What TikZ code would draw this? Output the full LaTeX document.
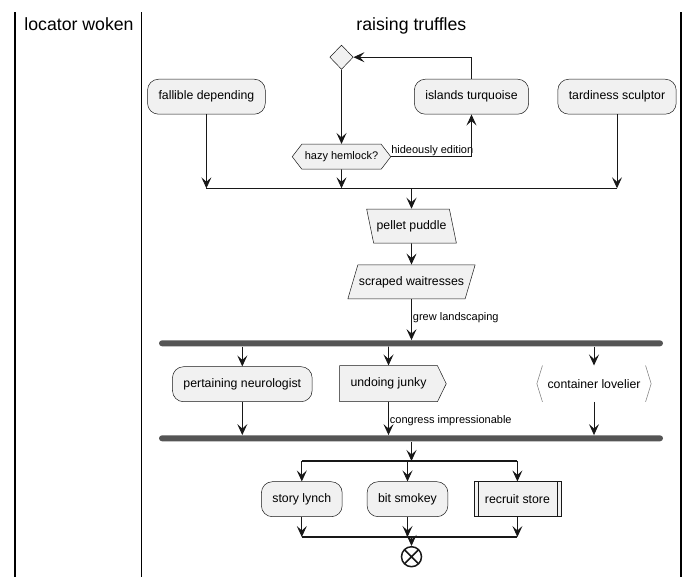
\documentclass[tikz,border=0pt]{standalone}
\usepackage{fontspec}
\setmainfont{Liberation Sans}
\usetikzlibrary{arrows.meta,shapes.geometric,shapes.symbols}
\definecolor{actfill}{HTML}{F1F1F1}
\definecolor{actline}{HTML}{181818}
\definecolor{barfill}{HTML}{555555}

\begin{document}
\begin{tikzpicture}[x=1pt, y=-1pt,
  lane/.style={draw=black, line width=1.5pt},
  title/.style={anchor=base, inner sep=0pt, font=\fontsize{17.7}{20}\selectfont},
  act/.style={draw=actline, line width=0.5pt, fill=actfill, rounded corners=11pt, minimum height=35pt, inner xsep=11pt, font=\fontsize{12.3}{14}\selectfont},
  plainbox/.style={draw=actline, line width=0.5pt, fill=actfill, minimum height=35pt, inner xsep=11pt, font=\fontsize{12.3}{14}\selectfont},
  decide/.style={shape=diamond, draw=actline, line width=0.5pt, fill=actfill, inner sep=0pt, minimum width=23.4pt, minimum height=24.3pt},
  hexa/.style={shape=signal, signal to=east and west, signal pointer angle=105, draw=actline, line width=0.5pt, fill=actfill, inner xsep=3pt, minimum height=25pt, font=\fontsize{11}{13}\selectfont},
  inbox/.style={shape=trapezium, trapezium left angle=101.6, trapezium right angle=78.4, draw=actline, line width=0.5pt, fill=actfill, inner xsep=3pt, text height=9pt, text depth=2.6pt, inner ysep=11.2pt, font=\fontsize{12.3}{14}\selectfont},
  outbox/.style={shape=trapezium, trapezium left angle=73.6, trapezium right angle=106.4, draw=actline, line width=0.5pt, fill=actfill, inner xsep=1pt, text height=9pt, text depth=2.6pt, inner ysep=11.2pt, font=\fontsize{12.3}{14}\selectfont},
  sendbox/.style={shape=signal, signal to=east, signal from=nowhere, signal pointer angle=128, draw=actline, line width=0.5pt, fill=actfill, inner xsep=11pt, minimum height=36pt, font=\fontsize{12.3}{14}\selectfont},
  openbox/.style={minimum height=36pt, minimum width=102.7pt, inner sep=0pt, font=\fontsize{12.3}{14}\selectfont},
  bracket/.style={draw=actline!60, line width=0.5pt},
  forkbar/.style={fill=barfill, rounded corners=3pt, minimum height=6pt, minimum width=504pt, inner sep=0pt},
  stopnode/.style={circle, draw=actline, line width=1.5pt, fill=white, minimum size=20pt, inner sep=0pt,
    path picture={\draw[line width=1.5pt, actline] (path picture bounding box.north west) -- (path picture bounding box.south east) (path picture bounding box.north east) -- (path picture bounding box.south west);}},
  flow/.style={draw=actline, line width=0.9pt, -{Stealth[length=11pt, width=10pt, inset=4.5pt]}},
  thin/.style={draw=actline, line width=1.2pt},
  lbl/.style={inner sep=1pt, font=\fontsize{11}{13}\selectfont}]
\useasboundingbox (0,0) rectangle (698,587);
\draw[lane] (15,12) -- (15,577);
\draw[lane] (141.7,12) -- (141.7,577);
\draw[lane] (681,12) -- (681,577);
\node[title] (lanea) at (79,30.5) {locator woken};
\node[title] (laneb) at (411.4,30.5) {raising truffles};

\node[decide] (loop) at (341.5,57.2) {};
\node[act] (fallible) at (206.4,96.7) {fallible depending};
\node[act] (islands) at (471.5,96.7) {islands turquoise};
\node[act] (tardiness) at (617,96.7) {tardiness sculptor};
\node[hexa] (hazy) at (341.5,156.7) {hazy hemlock?};
\node[lbl, anchor=south west] (hideous) at ([xshift=-1pt]hazy.east) {hideously edition};
\coordinate (merge) at (411.5,188.3);
\node[inbox] (pellet) at (411.5,226) {pellet puddle};
\node[outbox] (scraped) at (411.5,281.8) {scraped waitresses};
\node[forkbar] (forka) at (411,343.3) {};
\node[act] (pertaining) at (242.3,384.2) {pertaining neurologist};
\node[sendbox] (undoing) at (388.5,383.7) {undoing junky};
\node[openbox] (container) at (594,383.7) {container lovelier};
\node[forkbar] (joina) at (411,438.3) {};
\coordinate (split) at (411.5,461);
\node[act] (story) at (301.8,499.2) {story lynch};
\node[act] (bit) at (407.5,499.2) {bit smokey};
\node[plainbox] (recruit) at (517.4,499.2) {recruit store};
\coordinate (join) at (411.5,537);
\node[stopnode] (stop) at (411.5,556.7) {};

\draw[flow] (loop) -- (hazy);
\draw[flow] (islands.north) |- (loop.east);
\draw[flow] (hazy.east) -| (islands.south);
\draw[flow] (fallible) -- (fallible |- merge);
\draw[flow] (hazy) -- (hazy |- merge);
\draw[flow] (tardiness) -- (tardiness |- merge);
\draw[thin] (fallible |- merge) -- (tardiness |- merge);
\draw[flow] (merge) -- (pellet);
\draw[flow] (pellet) -- (scraped);
\draw[flow] (scraped) -- node[lbl, right, pos=0.45] (grew) {grew landscaping} (scraped |- forka.north);
\draw[flow] (pertaining |- forka.south) -- (pertaining);
\draw[flow] (undoing |- forka.south) -- (undoing);
\draw[flow] (container |- forka.south) -- (container);
\draw[flow] (pertaining) -- (pertaining |- joina.north);
\draw[flow] (undoing) -- node[lbl, right, pos=0.55] (congress) {congress impressionable} (undoing |- joina.north);
\draw[flow] (container) -- (container |- joina.north);
\draw[bracket] (container.north west) -- ([xshift=-5.6pt]container.west) -- (container.south west);
\draw[bracket] (container.north east) -- ([xshift=5.6pt]container.east) -- (container.south east);
\draw[flow] (joina.south -| split) -- (split);
\draw[thin] (story |- split) -- (recruit |- split);
\draw[flow] (story |- split) -- (story);
\draw[flow] (bit |- split) -- (bit);
\draw[flow] (recruit |- split) -- (recruit);
\draw[actline, line width=0.5pt] ([xshift=5pt]recruit.north west) -- ([xshift=5pt]recruit.south west);
\draw[actline, line width=0.5pt] ([xshift=-4pt]recruit.north east) -- ([xshift=-4pt]recruit.south east);
\draw[flow] (story) -- (story |- join);
\draw[flow] (bit) -- (bit |- join);
\draw[flow] (recruit) -- (recruit |- join);
\draw[thin] (story |- join) -- (recruit |- join);
\draw[flow] (join) -- (stop);



\end{tikzpicture}
\end{document}
